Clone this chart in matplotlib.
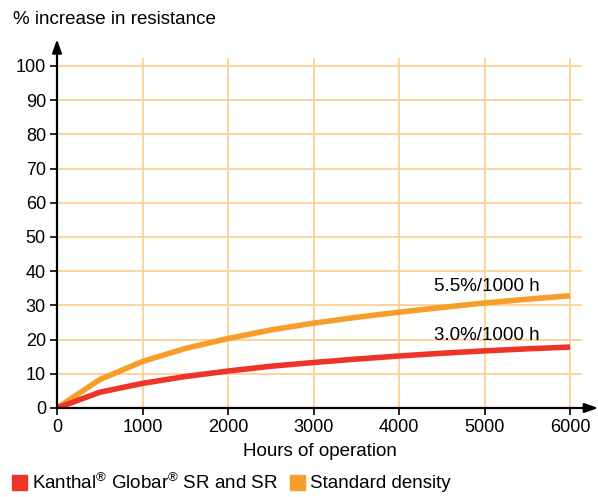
import matplotlib.pyplot as plt
from matplotlib.patches import Rectangle

plt.rcParams['font.family'] = ['Liberation Sans', 'DejaVu Sans']
plt.rcParams['mathtext.fontset'] = 'custom'
plt.rcParams['mathtext.rm'] = 'Liberation Sans'
plt.rcParams['mathtext.it'] = 'Liberation Sans:italic'
plt.rcParams['mathtext.bf'] = 'Liberation Sans:bold'

# Hours of operation
hours = [0, 500, 1000, 1500, 2000, 2500, 3000, 3500, 4000, 4500, 5000, 5500, 6000]
# % increase in resistance
globar_sr = [0, 4.6, 7.2, 9.2, 10.8, 12.2, 13.3, 14.3, 15.2, 16.0, 16.7, 17.3, 17.8]
standard = [0, 8.3, 13.6, 17.4, 20.3, 22.8, 24.8, 26.5, 28.0, 29.4, 30.7, 31.8, 32.8]

x_ticks = [0, 1000, 2000, 3000, 4000, 5000, 6000]
y_ticks = list(range(0, 101, 10))

red = '#EE3429'
orange = '#F79E2A'
grid_col = '#FDCB8C'

W, H = 598, 497
fig = plt.figure(figsize=(W / 100, H / 100), dpi=100)
ax = fig.add_axes([57 / W, 89 / H, 525 / W, 350 / H])
ax.set_xlim(0, 6140)
ax.set_ylim(0, 102.3)

# grid
for y in y_ticks[1:]:
    ax.axhline(y, color=grid_col, lw=1.2, zorder=1)
for x in x_ticks[1:]:
    ax.axvline(x, color=grid_col, lw=1.2, zorder=1)

ax.plot(hours, standard, color=orange, lw=4, solid_capstyle='butt', zorder=3)
ax.plot(hours, globar_sr, color=red, lw=4, solid_capstyle='butt', zorder=4)

ax.text(5030, 34.2, '5.5%/1000 h', fontsize=13.5, ha='center', va='baseline')
ax.text(5030, 19.9, '3.0%/1000 h', fontsize=13.5, ha='center', va='baseline')

for s in ax.spines.values():
    s.set_visible(False)

# axis arrows
arrow = dict(arrowstyle='-|>,head_length=0.8,head_width=0.28', color='black', lw=1.6,
             shrinkA=0, shrinkB=0)
ax.annotate('', xy=(6330, 0), xytext=(0, 0), xycoords='data', arrowprops=arrow,
            annotation_clip=False, zorder=5)
ax.annotate('', xy=(0, 107.8), xytext=(0, 0), xycoords='data', arrowprops=arrow,
            annotation_clip=False, zorder=5)

ax.set_xticks(x_ticks)
ax.set_yticks(y_ticks)
ax.tick_params(axis='both', labelsize=13, length=5, width=1.2, direction='out', pad=3)
ax.set_xlabel('Hours of operation', fontsize=13.5, labelpad=5)

fig.text(13 / W, 1 - 19 / H, '% increase in resistance', fontsize=13.5, va='center', ha='left')

# legend
fig.patches.append(Rectangle((12 / W, 1 - 490 / H), 15 / W, 15 / H, color=red,
                             transform=fig.transFigure, figure=fig))
fig.text(32 / W, 1 - 483 / H, r'Kanthal$^{\circledR}$ Globar$^{\circledR}$ SR and SR',
         fontsize=13.5, va='center', ha='left')
fig.patches.append(Rectangle((290 / W, 1 - 490 / H), 15 / W, 15 / H, color=orange,
                             transform=fig.transFigure, figure=fig))
fig.text(310 / W, 1 - 483 / H, 'Standard density', fontsize=13.5, va='center', ha='left')

fig.savefig('out.png', dpi=100)
